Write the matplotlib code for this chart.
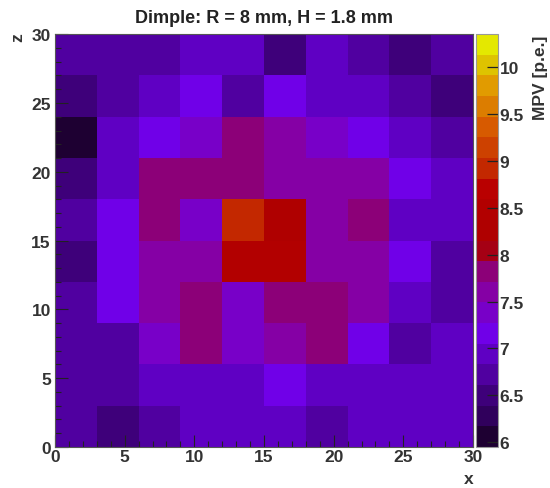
import numpy as np
import matplotlib
matplotlib.use("Agg")
import matplotlib.pyplot as plt
from matplotlib.colors import ListedColormap, Normalize
from matplotlib.ticker import MultipleLocator

# bin edges (10 x 10 bins, 3 mm wide)
x_edges = [0, 3, 6, 9, 12, 15, 18, 21, 24, 27, 30]
z_edges = [0, 3, 6, 9, 12, 15, 18, 21, 24, 27, 30]

# MPV per bin, rows from z = 0 (bottom) to z = 30 (top)
row_z00 = [6.70, 6.48, 6.72, 6.94, 6.95, 6.93, 6.71, 6.94, 6.93, 6.95]
row_z03 = [6.72, 6.70, 6.93, 6.94, 6.95, 7.16, 6.93, 6.94, 6.95, 6.94]
row_z06 = [6.73, 6.69, 7.38, 7.83, 7.37, 7.60, 7.82, 7.16, 6.70, 6.94]
row_z09 = [6.72, 7.17, 7.60, 7.81, 7.38, 7.83, 7.82, 7.61, 6.93, 6.72]
row_z12 = [6.50, 7.16, 7.61, 7.60, 8.47, 8.49, 7.60, 7.62, 7.15, 6.71]
row_z15 = [6.73, 7.17, 7.82, 7.38, 8.93, 8.27, 7.60, 7.83, 6.94, 6.95]
row_z18 = [6.49, 6.93, 7.82, 7.83, 7.82, 7.60, 7.61, 7.60, 7.16, 6.96]
row_z21 = [6.05, 6.94, 7.16, 7.38, 7.83, 7.61, 7.37, 7.17, 6.97, 6.72]
row_z24 = [6.50, 6.71, 6.94, 7.16, 6.72, 7.17, 6.93, 6.95, 6.71, 6.49]
row_z27 = [6.72, 6.71, 6.69, 6.94, 6.95, 6.48, 6.93, 6.72, 6.47, 6.72]

mpv = np.array([row_z00, row_z03, row_z06, row_z09, row_z12,
                row_z15, row_z18, row_z21, row_z24, row_z27])

z_min, z_max = 5.95, 10.35

# 20 contour colours, dark indigo -> violet -> red -> yellow
palette = ["#1e0032", "#30005c", "#3e007a", "#5000a0", "#5f00c3",
           "#7000e8", "#7800c8", "#8500a5", "#8c0078", "#a50014",
           "#af0000", "#b20000", "#b90000", "#c32800", "#cd4100",
           "#d75a00", "#dc7d00", "#e19b00", "#dec300", "#e4e800"]
cmap = ListedColormap(palette)

fig = plt.figure(figsize=(5.5, 4.89), dpi=100)
ax = fig.add_axes([0.1, 0.084, 0.76, 0.844])
cax = fig.add_axes([0.866, 0.084, 0.04, 0.844])

mesh = ax.pcolormesh(x_edges, z_edges, mpv, cmap=cmap,
                     norm=Normalize(vmin=z_min, vmax=z_max))
ax.set_xlim(0, 30)
ax.set_ylim(0, 30)

font = dict(family="Liberation Sans", weight="bold")
tick_size = 12.5

ax.xaxis.set_major_locator(MultipleLocator(5))
ax.xaxis.set_minor_locator(MultipleLocator(1))
ax.yaxis.set_major_locator(MultipleLocator(5))
ax.yaxis.set_minor_locator(MultipleLocator(1))
ax.tick_params(which="both", direction="in", color="#222222", width=0.8)
ax.tick_params(which="major", length=9, labelsize=tick_size)
ax.tick_params(axis="x", which="major", pad=1.5)
ax.tick_params(axis="y", which="major", pad=3)
ax.tick_params(which="minor", length=4.5)
for lab in ax.get_xticklabels() + ax.get_yticklabels():
    lab.set_fontfamily(font["family"])
    lab.set_fontweight(font["weight"])
    lab.set_color("#333333")

ax.set_title("Dimple: R = 8 mm, H = 1.8 mm", fontsize=13, pad=9,
             color="#222222", **font)
ax.text(1.0, -0.058, "x", transform=ax.transAxes, ha="right", va="top",
        fontsize=tick_size, color="#333333", **font)
ax.text(-0.09, 1.005, "z", transform=ax.transAxes, ha="center", va="top",
        rotation=90, fontsize=tick_size, color="#333333", **font)
for sp in ax.spines.values():
    sp.set_linewidth(0.8)
    sp.set_color("#555555")

cb = fig.colorbar(mesh, cax=cax)
cb.set_ticks([6, 6.5, 7, 7.5, 8, 8.5, 9, 9.5, 10])
cb.set_ticklabels(["6", "6.5", "7", "7.5", "8", "8.5", "9", "9.5", "10"])
cax.tick_params(direction="in", length=8, width=0.9, color="#222222",
                labelsize=tick_size, pad=1)
for lab in cax.get_yticklabels():
    lab.set_fontfamily(font["family"])
    lab.set_fontweight(font["weight"])
    lab.set_color("#333333")
cb.outline.set_edgecolor("#999999")
cb.outline.set_linewidth(0.8)
fig.text(0.982, 0.928, "MPV [p.e.]", rotation=90, ha="center", va="top",
         fontsize=tick_size, color="#333333", **font)

fig.savefig("out.png", dpi=100)
